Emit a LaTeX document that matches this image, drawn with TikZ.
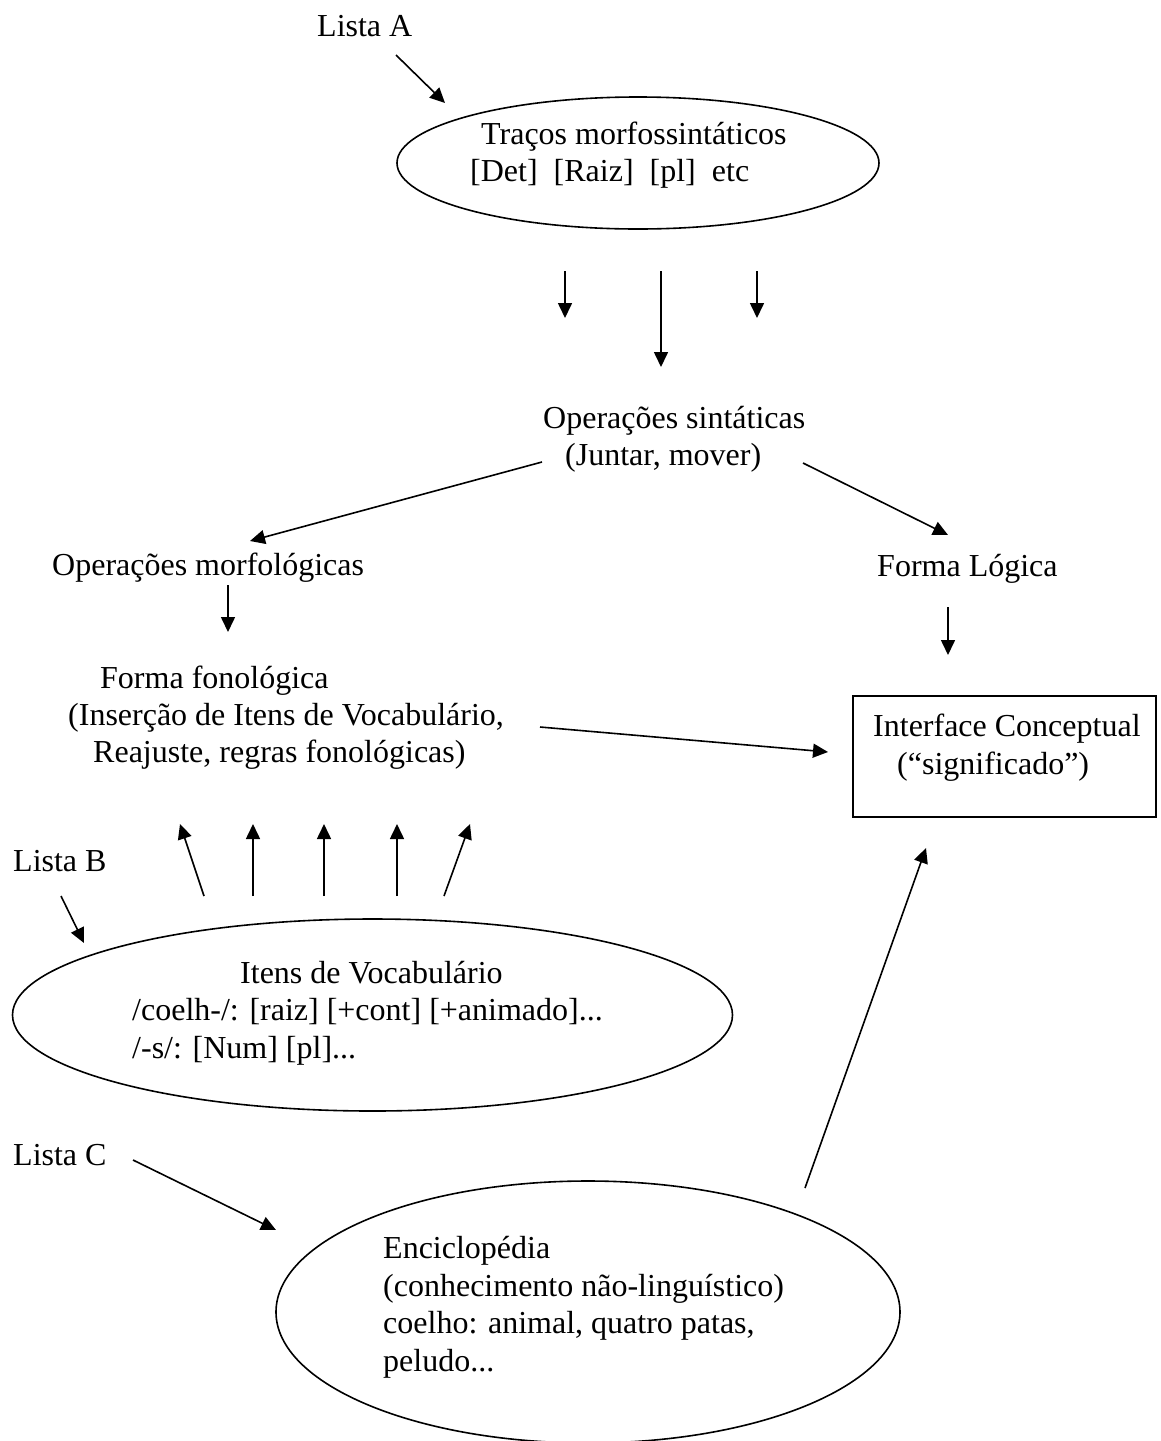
\documentclass[tikz,border=0pt]{standalone}
\usepackage{fontspec}
\setmainfont{Liberation Serif}
\usetikzlibrary{arrows.meta,shapes.geometric}
\begin{document}
\begin{tikzpicture}[x=1pt,y=-1pt,
  txt/.style={anchor=base west,inner sep=0pt,font=\fontsize{32}{37}\selectfont},
  arr/.style={-{Triangle[length=15pt,width=14pt]},line width=1.6pt},
  oval/.style={draw,ellipse,line width=1.6pt,inner sep=0pt},
  frame/.style={draw,rectangle,line width=1.6pt,inner sep=0pt}]
\useasboundingbox (0,0) rectangle (1160,1441);
% ---- nodes
\node[txt] (listaA) at (317,36) {Lista A};
\node[oval,minimum width=482pt,minimum height=132pt] (e1) at (638,163) {};
\node[txt] (tracos) at (481,144) {Traços morfossintáticos};
\node[txt] (det) at (470,181) {[Det]\ \ [Raiz]\ \ [pl]\ \ etc};
\node[txt] (opsint) at (543,428) {Operações sintáticas};
\node[txt] (juntar) at (565,465) {(Juntar, mover)};
\node[txt] (opmorf) at (52,575) {Operações morfológicas};
\node[txt] (flog) at (877,576) {Forma Lógica};
\node[txt] (ffon) at (100,688) {Forma fonológica};
\node[txt] (ins) at (68,725) {(Inserção de Itens de Vocabulário,};
\node[txt] (reaj) at (93,762) {Reajuste, regras fonológicas)};
\node[frame,minimum width=303pt,minimum height=121pt] (box) at (1004.5,756.5) {};
\node[txt] (ic) at (873,736) {Interface Conceptual};
\node[txt] (sig) at (897,774) {(“significado”)};
\node[txt] (listaB) at (13,871) {Lista B};
\node[oval,minimum width=720pt,minimum height=192pt] (e2) at (372.5,1015) {};
\node[txt] (itens) at (240,983) {Itens de Vocabulário};
\node[txt] (coelh) at (132,1020) {/coelh-/: [raiz] [+cont] [+animado]...};
\node[txt] (sfx) at (132,1058) {/-s/: [Num] [pl]...};
\node[txt] (listaC) at (13,1165) {Lista C};
\node[oval,minimum width=624pt,minimum height=262pt] (e3) at (588,1312) {};
\node[txt] (enc) at (383,1258) {Enciclopédia};
\node[txt] (conh) at (383,1296) {(conhecimento não-linguístico)};
\node[txt] (coelho) at (383,1333) {coelho: animal, quatro patas,};
\node[txt] (peludo) at (383,1371) {peludo...};
% ---- connector end points
\coordinate (aAs) at (396,55);   \coordinate (aAe) at (445,103);
\coordinate (d1s) at (565,271);  \coordinate (d1e) at (565,318);
\coordinate (d2s) at (661,271);  \coordinate (d2e) at (661,367);
\coordinate (d3s) at (757,271);  \coordinate (d3e) at (757,318);
\coordinate (dls) at (542,462);  \coordinate (dle) at (250,541);
\coordinate (drs) at (803,463);  \coordinate (dre) at (948,535);
\coordinate (oms) at (228,585);  \coordinate (ome) at (228,632);
\coordinate (fls) at (948,607);  \coordinate (fle) at (948,655);
\coordinate (ffs) at (540,727);  \coordinate (ffe) at (828,752);
\coordinate (u1s) at (204,896);  \coordinate (u1e) at (180,824);
\coordinate (u2s) at (253,896);  \coordinate (u2e) at (253,824);
\coordinate (u3s) at (324,896);  \coordinate (u3e) at (324,824);
\coordinate (u4s) at (397,896);  \coordinate (u4e) at (397,824);
\coordinate (u5s) at (444,896);  \coordinate (u5e) at (470,824);
\coordinate (aBs) at (61,896);   \coordinate (aBe) at (84,943);
\coordinate (aCs) at (133,1160); \coordinate (aCe) at (276,1230);
\coordinate (ens) at (805,1188); \coordinate (ene) at (926,848);
% ---- connectors
\foreach \p in {aA,d1,d2,d3,dl,dr,om,fl,ff,u1,u2,u3,u4,u5,aB,aC,en}
  \draw[arr] (\p s) -- (\p e);
\end{tikzpicture}
\end{document}
